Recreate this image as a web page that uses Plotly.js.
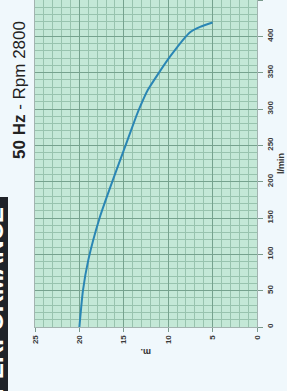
<!DOCTYPE html>
<html>
<head>
<meta charset="utf-8">
<script src="https://cdn.plot.ly/plotly-3.0.1.min.js"></script>
<style>
html,body{margin:0;padding:0;background:#f0f8fc;}
#chart{width:287px;height:391px;}
</style>
</head>
<body>
<div id="chart"></div>
<script>
// Pump curve: flow (l/min) vs head (m)
const flowLmin = [0, 50, 92, 151, 200, 250, 290, 305, 326, 372, 406, 413, 419];
const headM    = [20, 19.6, 19.0, 17.7, 16.3, 14.8, 13.6, 13.1, 12.3, 9.8, 7.5, 6.4, 5.0];
const headTicks = [0, 5, 10, 15, 20, 25];
const flowTicks = [0, 50, 100, 150, 200, 250, 300, 350, 400, 450];
const titleText = "<b>50 Hz</b> - Rpm 2800";
const headerText = "PERFORMANCE";

const tickFont = {family: "Liberation Sans, Arial, sans-serif", size: 8, color: "#3a3a3a", weight: "bold"};

const trace = {
  x: headM,
  y: flowLmin,
  type: "scatter",
  mode: "lines",
  line: {color: "#2a86b4", width: 2, shape: "spline", smoothing: 0.6},
  hoverinfo: "skip"
};

const layout = {
  width: 287,
  height: 391,
  margin: {l: 35, r: 30, t: 0, b: 64},
  paper_bgcolor: "#f0f8fc",
  plot_bgcolor: "#c4e8d7",
  showlegend: false,
  xaxis: {
    range: [25, 0],
    tickvals: headTicks,
    ticktext: headTicks.map(String),
    tickangle: -90,
    ticks: "outside",
    ticklen: 4,
    tickcolor: "#7a9a8c",
    tickfont: tickFont,
    showgrid: true,
    gridcolor: "#76a28e",
    gridwidth: 1,
    minor: {dtick: 1, showgrid: true, gridcolor: "#98c3ae", gridwidth: 1},
    zeroline: false,
    showline: true,
    linecolor: "#a3b3b0",
    linewidth: 1,
    mirror: true,
    fixedrange: true
  },
  yaxis: {
    range: [0, 450],
    side: "right",
    tickvals: flowTicks,
    ticktext: flowTicks.map(String),
    tickangle: -90,
    ticks: "outside",
    ticklen: 5,
    tickcolor: "#7a9a8c",
    tickfont: tickFont,
    showgrid: true,
    gridcolor: "#76a28e",
    gridwidth: 1,
    minor: {dtick: 10, showgrid: true, gridcolor: "#98c3ae", gridwidth: 1},
    zeroline: false,
    showline: true,
    linecolor: "#a3b3b0",
    linewidth: 1,
    mirror: true,
    title: {text: "l/min", standoff: 4, font: {family: "Liberation Sans, Arial, sans-serif", size: 9, color: "#333", weight: "bold"}},
    fixedrange: true
  },
  shapes: [{
    type: "rect", xref: "paper", yref: "paper",
    x0: -0.3, x1: (8 - 35) / 222, y0: -0.3, y1: (327 - 197) / 327,
    fillcolor: "#1f2329", line: {width: 0}, layer: "above"
  }],
  annotations: [
    {
      text: titleText, xref: "paper", yref: "paper",
      x: (19 - 35) / 222, y: (327 - 90) / 327,
      xanchor: "center", yanchor: "middle",
      textangle: -90, showarrow: false,
      font: {family: "Liberation Sans, Arial, sans-serif", size: 17, color: "#222"}
    },
    {
      text: "<b>" + headerText + "</b>", xref: "paper", yref: "paper",
      x: (-6 - 35) / 222, y: (327 - 205) / 327,
      xanchor: "center", yanchor: "top",
      textangle: -90, showarrow: false,
      font: {family: "Liberation Sans, Arial, sans-serif", size: 24, color: "#ffffff"}
    },
    {
      text: "<b>m.</b>", xref: "paper", yref: "paper",
      x: 0.5, y: (327 - 352) / 327,
      xanchor: "center", yanchor: "middle",
      textangle: 180, showarrow: false,
      font: {family: "Liberation Sans, Arial, sans-serif", size: 9, color: "#333"}
    }
  ]
};

Plotly.newPlot("chart", [trace], layout, {displayModeBar: false, staticPlot: true});
</script>
</body>
</html>
